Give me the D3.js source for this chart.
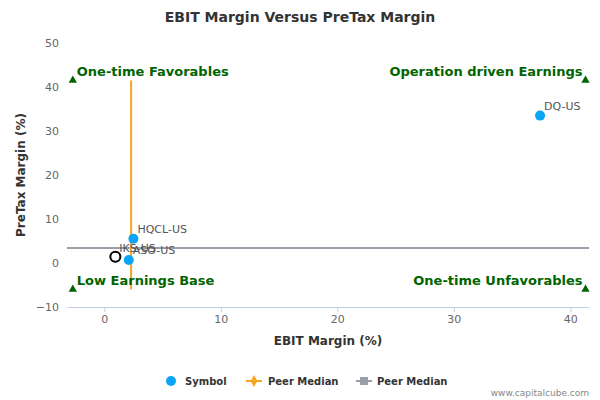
<!DOCTYPE html><html><head><meta charset="utf-8">
<script src="https://cdn.jsdelivr.net/npm/d3@7"></script>
<style>body{margin:0;background:#fff}text{font-family:"DejaVu Sans",Verdana,sans-serif}</style></head><body>
<svg id="c" width="600" height="400"></svg>
<script>
const symbols=["DQ-US","HQCL-US","ASO-US"];
const ebit=[37.4,2.5,2.1];
const pretax=[33.5,5.5,0.7];
const selfSymbol="IKS-US", selfEbit=0.95, selfPretax=1.4;
const medianEbit=2.3, medianPretax=3.4;
const quadLabels=["One-time Favorables","Operation driven Earnings","Low Earnings Base","One-time Unfavorables"];
const xTicks=[0,10,20,30,40], yTicks=[-10,0,10,20,30,40,50];
const xDom=[-3.2,41.6], yDom=[-10,50], quadY=[41.5,-6];

const svg=d3.select("#c");
const x=d3.scaleLinear().domain(xDom).range([67,589]);
const y=d3.scaleLinear().domain(yDom).range([307,43]);
svg.append("text").attr("x",300).attr("y",22).attr("text-anchor","middle").attr("font-size",14).attr("font-weight","bold").attr("fill","#333").text("EBIT Margin Versus PreTax Margin");
// axes
const xa=svg.append("g").attr("transform","translate(0,307)").call(d3.axisBottom(x).tickValues(xTicks).tickSize(5).tickSizeOuter(0));
xa.select(".domain").attr("stroke","#c0d0e0");xa.selectAll("line").attr("stroke","#c0d0e0");
xa.selectAll("text").attr("fill","#666").attr("font-size",11);
const ya=svg.append("g").attr("transform","translate(67,0)").call(d3.axisLeft(y).tickValues(yTicks).tickSize(0));
ya.select(".domain").remove();ya.selectAll("text").attr("fill","#666").attr("font-size",11).attr("x",-8);
svg.append("text").attr("x",328).attr("y",345).attr("text-anchor","middle").attr("font-size",12).attr("font-weight","bold").attr("fill","#333").text("EBIT Margin (%)");
svg.append("text").attr("transform","translate(25,175) rotate(-90)").attr("text-anchor","middle").attr("font-size",12).attr("font-weight","bold").attr("fill","#333").text("PreTax Margin (%)");
// medians
svg.append("line").attr("x1",x(xDom[0])).attr("x2",x(xDom[1])).attr("y1",y(medianPretax)).attr("y2",y(medianPretax)).attr("stroke","#9a9ea8").attr("stroke-width",2);
svg.append("line").attr("x1",x(medianEbit)).attr("x2",x(medianEbit)).attr("y1",y(quadY[0])).attr("y2",y(quadY[1])).attr("stroke","#f5a623").attr("stroke-width",2);
// quadrant labels and triangles
const qx=[-2.7,41.3];
const quads=[[0,0,"start"],[1,0,"end"],[0,1,"start"],[1,1,"end"]];
quads.forEach(([i,j,a],k)=>{
  const px=x(qx[i]),py=y(quadY[j]);
  svg.append("path").attr("d",d3.symbol(d3.symbolTriangle,30)()).attr("transform",`translate(${px},${py})`).attr("fill","#006400");
  svg.append("text").attr("x",i?px-3:px+4).attr("y",py-4).attr("text-anchor",a).attr("font-size",13).attr("font-weight","bold").attr("fill","#006400").text(quadLabels[k]);
});
// points
symbols.forEach((s,i)=>{
  svg.append("circle").attr("cx",x(ebit[i])).attr("cy",y(pretax[i])).attr("r",5).attr("fill","#0aa5f5");
  svg.append("text").attr("x",x(ebit[i])+4).attr("y",y(pretax[i])-6).attr("font-size",11).attr("fill","#555").text(s);
});
svg.append("circle").attr("cx",x(selfEbit)).attr("cy",y(selfPretax)).attr("r",5).attr("fill","none").attr("stroke","#000").attr("stroke-width",2);
svg.append("text").attr("x",x(selfEbit)+4).attr("y",y(selfPretax)-5).attr("font-size",11).attr("fill","#555").text(selfSymbol);
// legend
const lg=svg.append("g").attr("font-size",10).attr("font-weight","bold").attr("fill","#333");
lg.append("circle").attr("cx",171).attr("cy",381).attr("r",5).attr("fill","#0aa5f5");
lg.append("text").attr("x",185).attr("y",385).text("Symbol");
lg.append("line").attr("x1",246).attr("x2",262).attr("y1",381).attr("y2",381).attr("stroke","#f5a623").attr("stroke-width",2);
lg.append("path").attr("d",d3.symbol(d3.symbolDiamond,40)()).attr("transform","translate(254,381)").attr("fill","#f5a623");
lg.append("text").attr("x",268).attr("y",385).text("Peer Median");
lg.append("line").attr("x1",356).attr("x2",372).attr("y1",381).attr("y2",381).attr("stroke","#9a9ea8").attr("stroke-width",2);
lg.append("rect").attr("x",360).attr("y",377).attr("width",8).attr("height",8).attr("fill","#9a9ea8");
lg.append("text").attr("x",377).attr("y",385).text("Peer Median");
svg.append("text").attr("x",589).attr("y",396).attr("text-anchor","end").attr("font-size",9).attr("fill","#888").text("www.capitalcube.com");
</script></body></html>
